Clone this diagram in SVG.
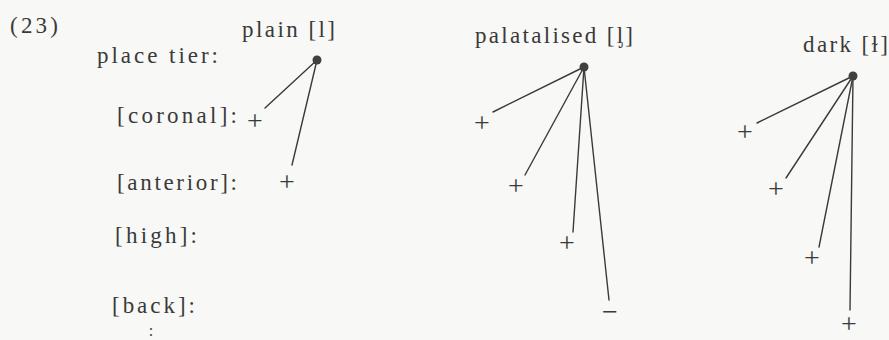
<svg xmlns="http://www.w3.org/2000/svg" width="889" height="340" viewBox="0 0 889 340">
<style>
.t{font-family:"Liberation Serif","DejaVu Serif",serif;font-size:23px;fill:#3a3a3a}
.v{font-family:"Liberation Serif","DejaVu Serif",serif;font-size:28px;fill:#3a3a3a;text-anchor:middle}
.c line{stroke:#3a3a3a;stroke-width:1.4;stroke-linecap:round}
.dot{fill:#404040}
</style>
<rect width="889" height="340" fill="#f8f8f6"/>
<g id="labels">
<text class="t" x="10" y="33" textLength="48" lengthAdjust="spacing">(23)</text>
<text class="t" x="97" y="63" textLength="121" lengthAdjust="spacing">place tier:</text>
<text class="t" x="117" y="123" textLength="120" lengthAdjust="spacing">[coronal]:</text>
<text class="t" x="117" y="190" textLength="120" lengthAdjust="spacing">[anterior]:</text>
<text class="t" x="115" y="243" textLength="82" lengthAdjust="spacing">[high]:</text>
<text class="t" x="112" y="313" textLength="83" lengthAdjust="spacing">[back]:</text>
<text class="t" x="151" y="336" text-anchor="middle" style="font-size:16px">:</text>
</g>
<g class="c" id="connectors">
<line x1="317" y1="60" x2="265" y2="108"/>
<line x1="317" y1="60" x2="292" y2="165"/>
<line x1="584" y1="67" x2="493" y2="112"/>
<line x1="584" y1="67" x2="525" y2="175"/>
<line x1="584" y1="67" x2="573" y2="232"/>
<line x1="584" y1="67" x2="609" y2="300"/>
<line x1="853" y1="76" x2="757" y2="123"/>
<line x1="853" y1="76" x2="786" y2="178"/>
<line x1="853" y1="76" x2="819" y2="247"/>
<line x1="853" y1="76" x2="850" y2="310"/>
</g>
<g id="plain">
<text class="t" x="242" y="37" textLength="93" lengthAdjust="spacing">plain [l]</text>
<circle class="dot" cx="317" cy="60" r="4.5"/>
</g>
<g id="plain-coronal"><text class="v" x="255" y="130">+</text></g>
<g id="plain-anterior"><text class="v" x="287" y="191">+</text></g>
<g id="palatalised">
<text class="t" x="475" y="43" textLength="158" lengthAdjust="spacing">palatalised [ᶅ]</text>
<circle class="dot" cx="584" cy="67" r="4.5"/>
</g>
<g id="pal-coronal"><text class="v" x="482" y="132">+</text></g>
<g id="pal-anterior"><text class="v" x="516" y="195">+</text></g>
<g id="pal-high"><text class="v" x="567" y="252">+</text></g>
<g id="pal-back"><text class="v" x="610" y="321">−</text></g>
<g id="dark">
<text class="t" x="803" y="52" textLength="85" lengthAdjust="spacing">dark [ɫ]</text>
<circle class="dot" cx="853" cy="76" r="4.5"/>
</g>
<g id="dark-coronal"><text class="v" x="745" y="141">+</text></g>
<g id="dark-anterior"><text class="v" x="776" y="198">+</text></g>
<g id="dark-high"><text class="v" x="812" y="267">+</text></g>
<g id="dark-back"><text class="v" x="849" y="333">+</text></g>
</svg>
